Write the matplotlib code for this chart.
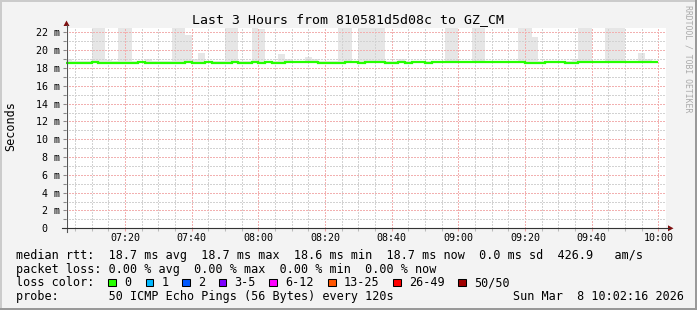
import numpy as np
import matplotlib
matplotlib.use("Agg")
import matplotlib.pyplot as plt
import matplotlib.transforms as mtransforms
from matplotlib.patches import Rectangle, Polygon
from matplotlib.lines import Line2D

plt.rcParams['font.family'] = ['DejaVu Sans Mono']

# ---------------- data ----------------
title = "Last 3 Hours from 810581d5d08c to GZ_CM"
# start of each 2-minute bin, minutes after 07:00 (07:02 ... 09:58)
bin_start_min = list(range(2, 180, 2))

# median rtt per bin (ms)
median_ms = [
    18.6, 18.6, 18.6, 18.6, 18.7, 18.6, 18.6, 18.6, 18.6, 18.6,
    18.6, 18.7, 18.6, 18.6, 18.6, 18.6, 18.6, 18.6, 18.7, 18.6,
    18.6, 18.7, 18.6, 18.6, 18.6, 18.7, 18.6, 18.6, 18.7, 18.6,
    18.7, 18.6, 18.6, 18.7, 18.7, 18.7, 18.7, 18.7, 18.6, 18.6,
    18.6, 18.6, 18.7, 18.7, 18.6, 18.7, 18.7, 18.7, 18.6, 18.6,
    18.7, 18.6, 18.7, 18.7, 18.6, 18.7, 18.7, 18.7, 18.7, 18.7,
    18.7, 18.7, 18.7, 18.7, 18.7, 18.7, 18.7, 18.7, 18.7, 18.6,
    18.6, 18.6, 18.7, 18.7, 18.7, 18.6, 18.6, 18.7, 18.7, 18.7,
    18.7, 18.7, 18.7, 18.7, 18.7, 18.7, 18.7, 18.7, 18.7,
]

# top of the smoke (max ping) per bin (ms)
smoke_hi_ms = [
    19.0, 18.8, 18.8, 18.8, 24.0, 24.0, 18.95, 18.8, 24.0, 24.0,
    18.8, 18.8, 19.05, 18.8, 18.8, 18.8, 24.0, 24.0, 21.7, 19.05,
    19.7, 18.8, 18.8, 18.8, 24.0, 24.0, 18.8, 18.8, 24.0, 22.4,
    18.8, 18.8, 19.6, 19.05, 18.8, 18.8, 19.2, 19.0, 18.8, 18.8,
    18.8, 24.0, 24.0, 18.8, 24.0, 24.0, 24.0, 24.0, 18.8, 18.8,
    19.0, 18.8, 18.8, 18.8, 18.8, 18.8, 18.8, 24.0, 24.0, 18.8,
    18.8, 24.0, 24.0, 18.8, 18.8, 18.8, 18.8, 18.8, 24.0, 24.0,
    21.5, 18.8, 18.8, 18.8, 18.8, 18.8, 19.05, 24.0, 24.0, 18.8,
    18.8, 24.0, 24.0, 24.0, 18.8, 18.8, 19.7, 19.0, 18.8,
]

x_major_min = [20, 40, 60, 80, 100, 120, 140, 160, 180]
x_major_labels = ["07:20", "07:40", "08:00", "08:20", "08:40",
                  "09:00", "09:20", "09:40", "10:00"]
y_major = [0, 2, 4, 6, 8, 10, 12, 14, 16, 18, 20, 22]
y_major_labels = ["0", "2 m", "4 m", "6 m", "8 m", "10 m", "12 m",
                  "14 m", "16 m", "18 m", "20 m", "22 m"]

legend_rows = [
    "median rtt:  18.7 ms avg  18.7 ms max  18.6 ms min  18.7 ms now  0.0 ms sd  426.9   am/s",
    "packet loss: 0.00 % avg  0.00 % max  0.00 % min  0.00 % now",
    "loss color:",
    "probe:       50 ICMP Echo Pings (56 Bytes) every 120s",
]
loss_labels = ["0", "1", "2", "3-5", "6-12", "13-25", "26-49", "50/50"]
loss_colors = ["#26ff00", "#00b8ff", "#0059ff", "#7e00ff",
               "#ff00ff", "#ff5500", "#ff0000", "#a10000"]
date_text = "Sun Mar  8 10:02:16 2026"

# ---------------- layout ----------------
W, H, DPI = 697, 310, 100
fig = plt.figure(figsize=(W / DPI, H / DPI), dpi=DPI, facecolor='#f3f3f3')


def fx(x):
    return x / W


def fy(y):
    return 1 - y / H


AX_L, AX_B, AX_W, AX_H = 66, 228.3, 600, 200.3
ax = fig.add_axes([fx(AX_L), fy(AX_B), AX_W / W, AX_H / H])
ax.set_facecolor('white')
for s in ax.spines.values():
    s.set_visible(False)

x0 = 2 + 16 / 60
ax.set_xlim(x0, x0 + 180)
ax.set_ylim(0, 22.5)

med = np.array(median_ms)
hi = np.array(smoke_hi_ms)
ax.bar(bin_start_min, hi - med, bottom=med, width=2, align='edge',
       color='#e6e6e6', linewidth=0, zorder=1)

edges = list(bin_start_min) + [bin_start_min[-1] + 2]
ax.stairs(med, edges, color='#26ff00', linewidth=1.6, baseline=None, zorder=3)

# grid
ax.set_xticks(x_major_min)
ax.set_xticklabels(x_major_labels)
minor_x = [m for m in range(5, 181, 5) if m % 20 != 0]
ax.set_xticks(minor_x, minor=True)
ax.set_yticks(y_major)
ax.set_yticks([v for v in range(1, 23, 2)], minor=True)
ax.set_axisbelow(False)
ax.grid(which='minor', color='#d2d2d2', linestyle=(0, (1, 1)), linewidth=0.75,
        antialiased=False)
ax.grid(which='major', color='#f2b0b0', linestyle=(0, (1, 1)), linewidth=0.75,
        antialiased=False)
ax.tick_params(axis='x', which='major', direction='out', length=2.4, width=0.75,
               color='#eea0a0', pad=1.0, labelsize=7.2, labelcolor='black')
ax.tick_params(axis='x', which='minor', direction='out', length=2.4, width=0.75,
               color='#bbbbbb')
ax.tick_params(axis='y', which='both', direction='out', length=2.4, width=0.75,
               color='#888888', labelleft=False)

# y tick labels (monospace column alignment like rrdtool)
ytr = mtransforms.blended_transform_factory(fig.transFigure, ax.transData)
for v, lab in zip(y_major, y_major_labels):
    xr = 59.5 if lab != "0" else 47.3
    ax.text(fx(xr), v, lab, transform=ytr, ha='right', va='center_baseline',
            fontsize=7.2, color='black', clip_on=False)

# axis lines and arrows
axis_col = '#555555'
arrow_col = '#7f1010'
fig.add_artist(Line2D([fx(66.5), fx(66.5)], [fy(232.3), fy(25)],
                      transform=fig.transFigure, color=axis_col, lw=0.8))
fig.add_artist(Line2D([fx(62), fx(669)], [fy(228.3), fy(228.3)],
                      transform=fig.transFigure, color='#333333', lw=0.8))
fig.add_artist(Polygon([[fx(63.5), fy(26)], [fx(69.5), fy(26)], [fx(66.5), fy(20.5)]],
                       closed=True, transform=fig.transFigure, color=arrow_col, lw=0))
fig.add_artist(Polygon([[fx(668), fy(225.3)], [fx(668), fy(231.3)], [fx(673.5), fy(228.3)]],
                       closed=True, transform=fig.transFigure, color=arrow_col, lw=0))

# title, labels
fig.text(fx(348), fy(19.5), title, ha='center', va='center', fontsize=9.5, color='black')
fig.text(fx(11), fy(126.5), "Seconds", rotation=90, ha='center', va='center',
         fontsize=8.5, color='black')
fig.text(fx(688), fy(59), "RRDTOOL / TOBI OETIKER", rotation=-90, ha='center',
         va='center', fontsize=5.9, color='#aaaaaa')

# legend
baselines = [258.5, 272.5, 286.5, 300.3]
for txt, yb in zip(legend_rows, baselines):
    fig.text(fx(16), fy(yb), txt, ha='left', va='baseline', fontsize=8.5, color='black')
fig.text(fx(513.3), fy(baselines[3]), date_text, ha='left', va='baseline',
         fontsize=8.5, color='black')

box_x = [108.3, 145.7, 182.3, 219.0, 269.3, 328.3, 393.3, 458.3]
for bx, col, lab in zip(box_x, loss_colors, loss_labels):
    fig.add_artist(Rectangle((fx(bx), fy(286.2)), 7.3 / W, 7.3 / H,
                             transform=fig.transFigure, facecolor=col,
                             edgecolor='black', lw=0.75))
    fig.text(fx(bx + 15.5), fy(baselines[2]), lab, ha='left', va='baseline',
             fontsize=8.5, color='black')

# 3D frame
fig.add_artist(Rectangle((0, 1 - 2 / H), 1, 2 / H, transform=fig.transFigure,
                         facecolor='#cbcbcb', lw=0))
fig.add_artist(Rectangle((0, 0), 2 / W, 1, transform=fig.transFigure,
                         facecolor='#cbcbcb', lw=0))
fig.add_artist(Rectangle((0, 0), 1, 2 / H, transform=fig.transFigure,
                         facecolor='#999999', lw=0))
fig.add_artist(Rectangle((1 - 2 / W, 0), 2 / W, 1, transform=fig.transFigure,
                         facecolor='#999999', lw=0))

fig.savefig('out.png', dpi=DPI, facecolor=fig.get_facecolor())
